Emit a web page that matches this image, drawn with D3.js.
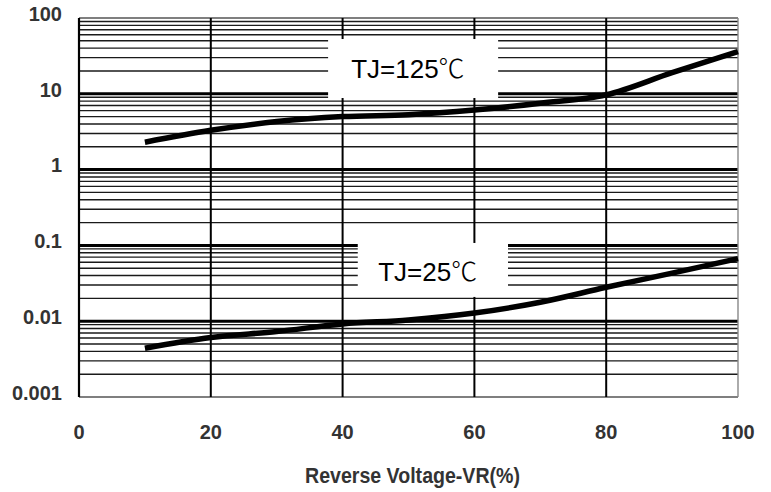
<!DOCTYPE html>
<html>
<head>
<meta charset="utf-8">
<script src="https://cdn.jsdelivr.net/npm/d3@7"></script>
<style>
  html, body { margin: 0; padding: 0; background: #fff; }
  svg { display: block; }
</style>
</head>
<body>
<svg id="chart" width="771" height="492"></svg>
<script>
// ---- data ----
const xValues = [10, 20, 30, 40, 50, 60, 70, 80, 90, 100];
const tj125 = [2.3, 3.3, 4.3, 5.0, 5.3, 6.1, 7.5, 9.7, 19, 36];
const tj25 = [0.0044, 0.0061, 0.0073, 0.0092, 0.0104, 0.0128, 0.0178, 0.028, 0.043, 0.067];
const xTicks = [0, 20, 40, 60, 80, 100];
const yTicks = [0.001, 0.01, 0.1, 1, 10, 100];
const yTickLabels = ["0.001", "0.01", "0.1", "1", "10", "100"];
const seriesLabels = ["TJ=125", "TJ=25"];
const xTitle = "Reverse Voltage-VR(%)";

// ---- layout ----
const svg = d3.select("#chart");
const pL = 79, pR = 738, pT = 18, pB = 397;
const x = d3.scaleLinear().domain([0, 100]).range([pL, pR]);
const y = d3.scaleLog().domain([0.001, 100]).range([pB, pT]);

// minor grid lines (2..9 per decade)
const minor = [];
for (let e = -3; e < 2; e++) for (let m = 2; m <= 9; m++) minor.push(m * Math.pow(10, e));
const g = svg.append("g");
g.selectAll("line.minor").data(minor).join("line")
  .attr("x1", pL).attr("x2", pR)
  .attr("y1", d => y(d)).attr("y2", d => y(d))
  .attr("stroke", "#1a1a1a").attr("stroke-width", 1.4);
// decade lines
g.selectAll("line.major").data(yTicks.slice(1, -1)).join("line")
  .attr("x1", pL).attr("x2", pR)
  .attr("y1", d => y(d)).attr("y2", d => y(d))
  .attr("stroke", "#000").attr("stroke-width", 3);
// top/bottom border
g.selectAll("line.tb").data([yTicks[0], yTicks[yTicks.length - 1]]).join("line")
  .attr("x1", pL).attr("x2", pR)
  .attr("y1", d => y(d)).attr("y2", d => y(d))
  .attr("stroke", "#555").attr("stroke-width", 1.6);
// vertical grid lines
g.selectAll("line.v").data(xTicks.slice(1, -1)).join("line")
  .attr("x1", d => x(d)).attr("x2", d => x(d))
  .attr("y1", pT).attr("y2", pB)
  .attr("stroke", "#000").attr("stroke-width", 2);
// left and right borders
g.append("line").attr("x1", x(0)).attr("x2", x(0)).attr("y1", pT).attr("y2", pB)
  .attr("stroke", "#000").attr("stroke-width", 2.2);
g.append("line").attr("x1", x(100)).attr("x2", x(100)).attr("y1", pT).attr("y2", pB)
  .attr("stroke", "#888").attr("stroke-width", 1.4);

// ---- label boxes ----
function labelBox(x0, x1, y0, y1, tx, ty, text) {
  g.append("rect")
    .attr("x", x(x0)).attr("y", y(y0))
    .attr("width", x(x1) - x(x0)).attr("height", y(y1) - y(y0))
    .attr("fill", "#fff");
  const t = g.append("text")
    .attr("x", x(tx)).attr("y", y(ty))
    .attr("font-family", "'Liberation Sans', Arial, sans-serif")
    .attr("font-size", 26).attr("fill", "#000");
  t.append("tspan").text(text);
  t.append("tspan").attr("font-family", "'Noto Sans CJK SC', sans-serif")
    .attr("font-weight", 300).attr("font-size", 26).text("\u2103");
}
labelBox(37.8, 63.6, 52.8, 8.8, 41.3, 16.2, seriesLabels[0]);
labelBox(42.3, 65.1, 0.1077, 0.0209, 45.4, 0.0339, seriesLabels[1]);

// ---- curves ----
const line = d3.line().x(d => x(d[0])).y(d => y(d[1])).curve(d3.curveMonotoneX);
[tj125, tj25].forEach(s => {
  g.append("path")
    .datum(xValues.map((v, i) => [v, s[i]]))
    .attr("d", line)
    .attr("fill", "none").attr("stroke", "#000").attr("stroke-width", 5.5);
});

// ---- axis labels ----
const tickFont = "'Liberation Sans', Arial, sans-serif";
svg.append("g").selectAll("text").data(yTicks).join("text")
  .attr("x", 62).attr("y", d => y(d) - 2.5)
  .attr("text-anchor", "end").attr("dominant-baseline", "middle")
  .attr("font-family", tickFont).attr("font-weight", "bold")
  .attr("font-size", 20).attr("fill", "#333")
  .text((d, i) => yTickLabels[i]);
svg.append("g").selectAll("text").data(xTicks).join("text")
  .attr("x", d => x(d)).attr("y", 439)
  .attr("text-anchor", "middle")
  .attr("font-family", tickFont).attr("font-weight", "bold")
  .attr("font-size", 20).attr("fill", "#333")
  .text(d => d);
svg.append("text")
  .attr("x", 412.5).attr("y", 483)
  .attr("text-anchor", "middle")
  .attr("font-family", tickFont).attr("font-weight", "bold")
  .attr("font-size", 22).attr("fill", "#333")
  .attr("textLength", 215).attr("lengthAdjust", "spacingAndGlyphs")
  .text(xTitle);
</script>
</body>
</html>
